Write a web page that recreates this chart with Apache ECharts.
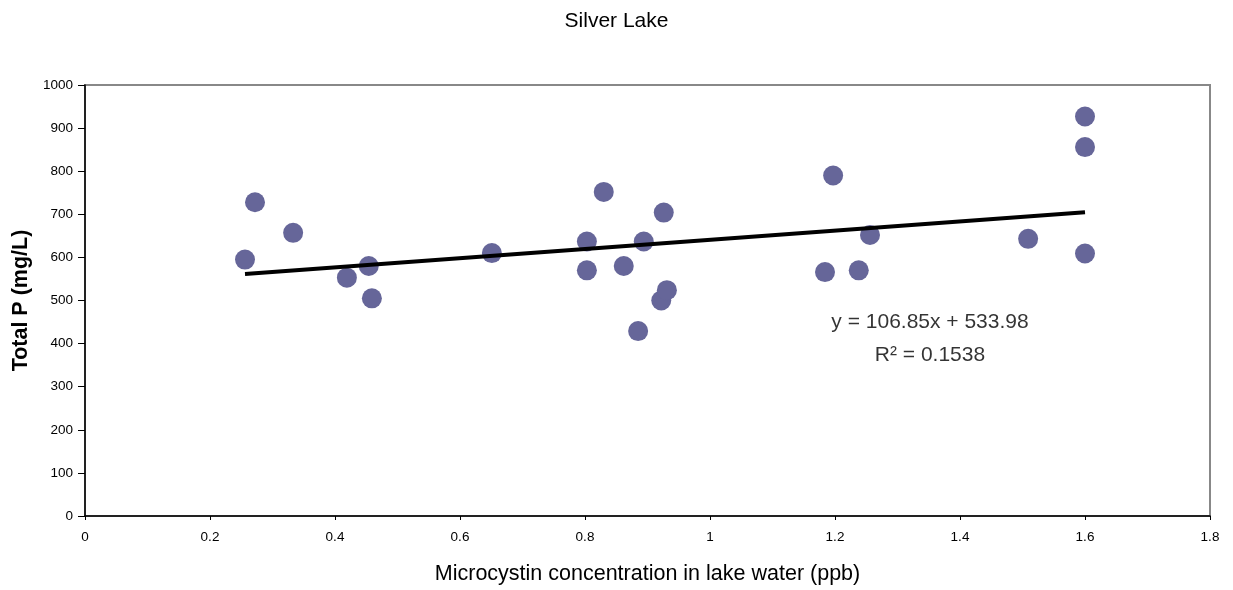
<!DOCTYPE html>
<html>
<head>
<meta charset="utf-8">
<script src="https://cdn.jsdelivr.net/npm/echarts@6/dist/echarts.min.js"></script>
<style>html,body{margin:0;padding:0;background:#fff}#c{width:1233px;height:590px}</style>
</head>
<body>
<div id="c"></div>
<script>
// Data
const microcystin = [0.256, 0.272, 0.333, 0.419, 0.454, 0.459, 0.651, 0.803, 0.803, 0.830, 0.862, 0.885, 0.894, 0.922, 0.926, 0.931, 1.184, 1.197, 1.238, 1.256, 1.509, 1.600, 1.600, 1.600];
const totalP      = [595,   728,   657,   553,   580,   505,   610,   637,   570,   752,   580,   429,   637,   500,   704,   524,   566,   790,   570,   652,   643,   927,   856,   609];
const trendSlope = 106.85;
const trendIntercept = 533.98;
const equationText = 'y = 106.85x + 533.98';
const r2Text = 'R² = 0.1538';
const equationAnchor = [1.352, 412];
const xTicks = [0, 0.2, 0.4, 0.6, 0.8, 1, 1.2, 1.4, 1.6, 1.8];
const yTicks = [0, 100, 200, 300, 400, 500, 600, 700, 800, 900, 1000];

const points = microcystin.map((x, i) => [x, totalP[i]]);
const xMin = Math.min(...microcystin), xMax = Math.max(...microcystin);
const trend = [[xMin, trendSlope * xMin + trendIntercept], [xMax, trendSlope * xMax + trendIntercept]];

const font = '"Liberation Sans", Arial, sans-serif';
const chart = echarts.init(document.getElementById('c'), null, {renderer: 'canvas'});
chart.setOption({
  animation: false,
  backgroundColor: '#fff',
  textStyle: {fontFamily: font},
  title: {
    text: 'Silver Lake', left: 'center', top: 6,
    textStyle: {fontFamily: font, fontSize: 21, fontWeight: 'normal', color: '#000'}
  },
  grid: {left: 85, right: 23, top: 85, bottom: 72, show: true, borderColor: '#888', borderWidth: 2, backgroundColor: '#fff'},
  xAxis: {
    type: 'value', min: xTicks[0], max: xTicks[xTicks.length - 1], interval: 0.2,
    name: 'Microcystin concentration in lake water (ppb)', nameLocation: 'middle', nameGap: 47,
    nameTextStyle: {fontFamily: font, fontSize: 21.5, color: '#000'},
    axisLine: {show: true, lineStyle: {color: '#000', width: 1.5}},
    axisTick: {show: true, length: 4, lineStyle: {color: '#000'}},
    axisLabel: {fontFamily: font, fontSize: 13.5, color: '#000', margin: 14, formatter: v => String(+v.toFixed(1))},
    splitLine: {show: false}
  },
  yAxis: {
    type: 'value', min: yTicks[0], max: yTicks[yTicks.length - 1], interval: 100,
    name: 'Total P (mg/L)', nameLocation: 'middle', nameGap: 50,
    nameTextStyle: {fontFamily: font, fontSize: 21.5, fontWeight: 'bold', color: '#000'},
    axisLine: {show: true, lineStyle: {color: '#000', width: 1.5}},
    axisTick: {show: true, length: 7, lineStyle: {color: '#000'}},
    axisLabel: {fontFamily: font, fontSize: 13.5, color: '#000', margin: 12, formatter: v => String(v)},
    splitLine: {show: false}
  },
  series: [
    {
      type: 'scatter', data: points, symbol: 'circle', symbolSize: 20,
      itemStyle: {color: '#666699', opacity: 1}, z: 2
    },
    {
      type: 'line', data: trend, symbol: 'none',
      lineStyle: {color: '#000', width: 4}, z: 3
    },
    {
      type: 'scatter', data: [equationAnchor], symbolSize: 0, silent: true,
      label: {
        show: true, position: 'inside', formatter: equationText + '\n' + r2Text,
        fontFamily: font, fontSize: 21, color: '#000', lineHeight: 33, align: 'center'
      }, z: 4
    }
  ]
});
</script>
</body>
</html>
